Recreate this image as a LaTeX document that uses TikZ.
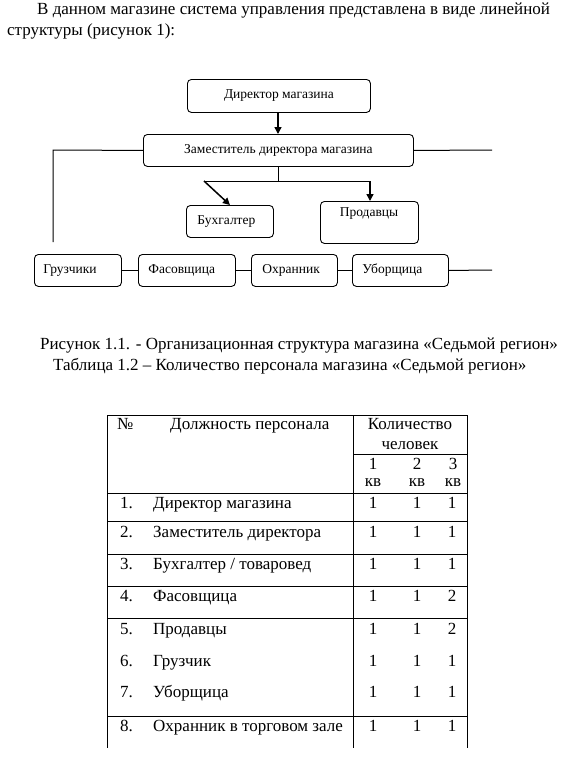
\documentclass[tikz,border=0pt]{standalone}
\usepackage{fontspec}
\setmainfont{Liberation Serif}
\usetikzlibrary{arrows.meta}
\begin{document}
\begin{tikzpicture}[x=1pt,y=-1pt,
  txt/.style={inner sep=0pt, text height=11.5pt, text depth=3.5pt, font=\fontsize{17}{19}\selectfont},
  ttx/.style={inner sep=0pt, text height=11.5pt, text depth=3.5pt, font=\fontsize{17}{19}\selectfont},
  dtxt/.style={inner sep=0pt, font=\fontsize{13.5}{15}\selectfont},
  box/.style={draw, rounded corners=4pt, line width=0.9pt, inner ysep=0pt, font=\fontsize{13.5}{15}\selectfont},
  lbox/.style={box, anchor=north west, align=left, minimum height=32pt},
  ln/.style={line width=1pt},
  arr/.style={line width=1.5pt, -{Triangle[length=7pt,width=7pt]}},
  tl/.style={line width=1pt}]
\useasboundingbox (0,0) rectangle (576,780);
\fill[white] (0,0) rectangle (576,780);

% intro text
\node[txt, anchor=west] (p1) at (37,10) {В данном магазине система управления представлена в виде линейной};
\node[txt, anchor=west] (p2) at (7,31) {структуры (рисунок 1):};

% diagram boxes
\node[box, anchor=north west, minimum width=183pt, minimum height=33pt] (dir) at (187,79) {Директор магазина};
\node[box, anchor=north west, minimum width=270pt, minimum height=32pt] (dep) at (143,134) {Заместитель директора магазина};
\node[lbox, inner xsep=11pt, text width=65pt] (buh) at (186,205) {Бухгалтер};
\node[box, anchor=north west, minimum width=98pt, minimum height=42pt] (prod) at (320,201) {};
\node[dtxt] (prodt) at (369,214) {Продавцы};
\node[lbox, inner xsep=9pt, text width=69pt] (gr) at (34,254) {Грузчики};
\node[lbox, inner xsep=10pt, text width=77pt] (fas) at (138,254) {Фасовщица};
\node[lbox, inner xsep=11pt, text width=64pt] (ohr) at (251,254) {Охранник};
\node[lbox, inner xsep=10pt, text width=76pt] (ub) at (352,254) {Уборщица};

% connectors
\coordinate (j) at (278,181);
\coordinate (jl) at (204,181);
\coordinate (jr) at (370,181);
\coordinate (lc) at (53,150);
\coordinate (ld) at (53,242);
\coordinate (re) at (492,150);
\coordinate (be) at (492,270);
\draw[arr] (dir.south -| j) -- (dep.north -| j);
\draw[ln] (dep.south -| j) -- (j);
\draw[ln] (jl) -- (jr);
\draw[arr] (jl) -- (buh.north);
\draw[arr] (jr) -- (prod.north -| jr);
\draw[ln] (dep.west) -- (lc) -- (ld);
\draw[ln] (dep.east) -- (re);
\draw[ln] (gr.east) -- (fas.west);
\draw[ln] (fas.east) -- (ohr.west);
\draw[ln] (ohr.east) -- (ub.west);
\draw[ln] (ub.east) -- (be);

% captions
\node[txt, anchor=west] (c1) at (40,345) {Рисунок 1.1. - Организационная структура магазина «Седьмой регион»};
\node[txt, anchor=west] (c2) at (53,366) {Таблица 1.2 – Количество персонала магазина «Седьмой регион»};

% table lines
\draw[tl] (107,415) -- (467,415);
\draw[tl] (107,415) -- (107,748);
\draw[tl] (353,415) -- (353,748);
\draw[tl] (467,415) -- (467,748);
\draw[tl] (353,454) -- (467,454);
\foreach \yy in {493,521,554,586,618,716} \draw[tl] (107,\yy) -- (467,\yy);

% table header
\node[ttx, anchor=west] (hn) at (117,425) {№};
\node[ttx, anchor=west] (hd) at (170,425) {Должность персонала};
\node[ttx] (hk) at (410,425) {Количество};
\node[ttx] (hc) at (410,445) {человек};
\node[ttx] (q1) at (373,465) {1};
\node[ttx] (q2) at (417,465) {2};
\node[ttx] (q3) at (453,465) {3};
\node[ttx] (k1) at (373,482) {кв};
\node[ttx] (k2) at (417,482) {кв};
\node[ttx] (k3) at (453,482) {кв};

% table rows
\foreach \n/\yy/\lab/\a/\b/\c in {
  1/504/{Директор магазина}/1/1/1,
  2/533/{Заместитель директора}/1/1/1,
  3/565/{Бухгалтер / товаровед}/1/1/1,
  4/597/{Фасовщица}/1/1/2,
  5/630/{Продавцы}/1/1/2,
  6/662/{Грузчик}/1/1/1,
  7/693/{Уборщица}/1/1/1,
  8/727/{Охранник в торговом зале}/1/1/1}{
  \node[ttx, anchor=west] (rn\n) at (120,\yy) {\n.};
  \node[ttx, anchor=west] (rl\n) at (153,\yy) {\lab};
  \node[ttx] (ra\n) at (373,\yy) {\a};
  \node[ttx] (rb\n) at (417,\yy) {\b};
  \node[ttx] (rc\n) at (452,\yy) {\c};
}
\end{tikzpicture}
\end{document}
